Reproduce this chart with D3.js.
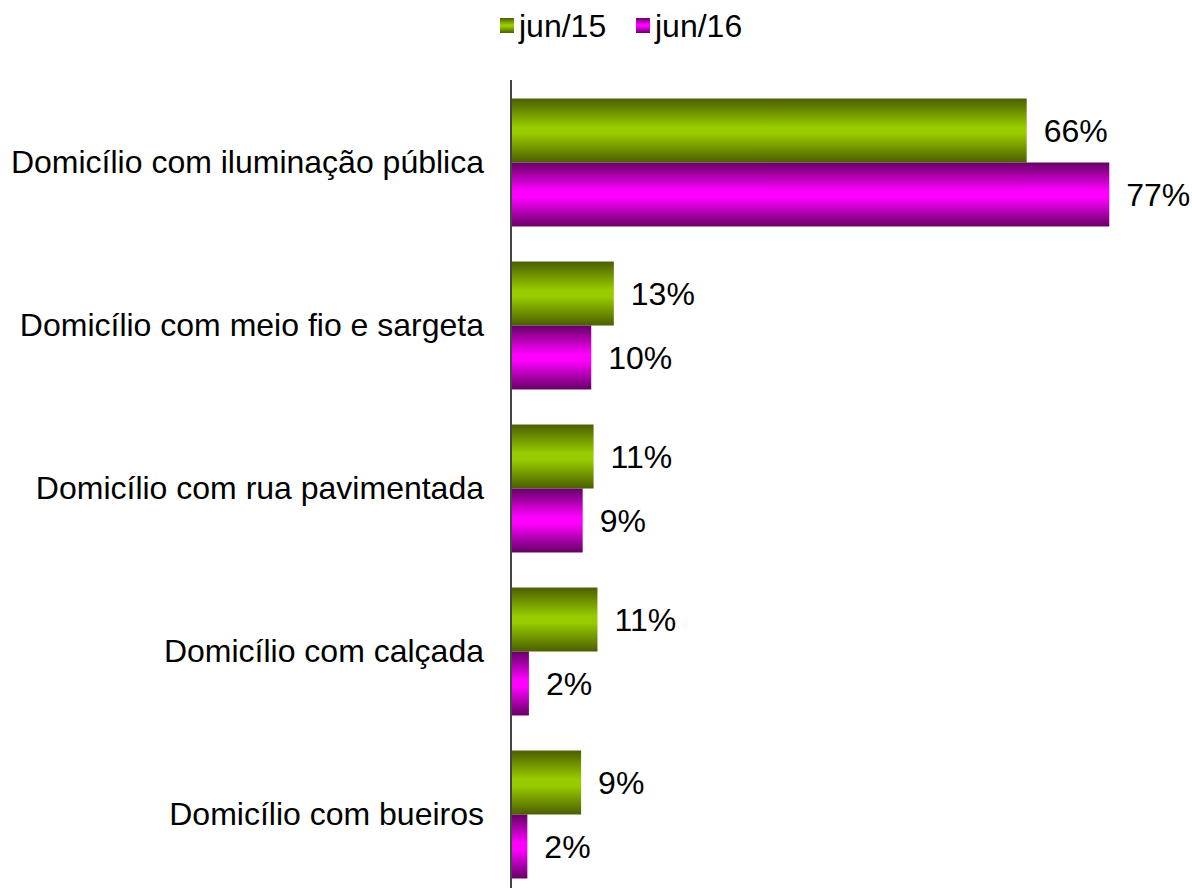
<!DOCTYPE html>
<html>
<head>
<meta charset="utf-8">
<script src="https://cdn.jsdelivr.net/npm/d3@7"></script>
<style>
  body { margin: 0; background: #fff; }
  text { font-family: "Liberation Sans", Arial, sans-serif; fill: #000; }
</style>
</head>
<body>
<svg id="chart" width="1192" height="888"></svg>
<script>
'use strict';

const categories = [
  'Domicílio com iluminação pública',
  'Domicílio com meio fio e sargeta',
  'Domicílio com rua pavimentada',
  'Domicílio com calçada',
  'Domicílio com bueiros',
];
const seriesNames = ['jun/15', 'jun/16'];
const jun15 = [66.2, 13.2, 10.6, 11.1, 9.0];
const jun16 = [76.8, 10.3, 9.2, 2.3, 2.1];

const palette = {
  'jun/15': { dark: '#4b5e00', light: '#99cc00' },
  'jun/16': { dark: '#650065', light: '#ff00ff' },
};

const FONT = 32;
const svg = d3.select('#chart');
const axisX = 511;

const x = d3.scaleLinear().domain([0, 100]).range([axisX, axisX + 779]);
const y = d3.scaleBand().domain(categories).range([81, 896]).paddingInner(0.215).paddingOuter(0.1075);
const ySub = d3.scaleBand().domain(seriesNames).range([0, y.bandwidth()]);

// gradients: dark at edges, bright in the middle
const defs = svg.append('defs');
seriesNames.forEach((name, i) => {
  const g = defs.append('linearGradient')
    .attr('id', `grad${i}`)
    .attr('x1', 0).attr('y1', 0).attr('x2', 0).attr('y2', 1);
  g.append('stop').attr('offset', '0%').attr('stop-color', palette[name].dark);
  g.append('stop').attr('offset', '45%').attr('stop-color', palette[name].light);
  g.append('stop').attr('offset', '55%').attr('stop-color', palette[name].light);
  g.append('stop').attr('offset', '100%').attr('stop-color', palette[name].dark);
});

const rows = categories.map((c, i) => ({
  category: c,
  values: [
    { key: 'jun/15', value: jun15[i], idx: 0 },
    { key: 'jun/16', value: jun16[i], idx: 1 },
  ],
}));

const groups = svg.append('g')
  .selectAll('g')
  .data(rows)
  .join('g')
  .attr('transform', (d) => `translate(0,${y(d.category)})`);

groups.selectAll('rect')
  .data((d) => d.values)
  .join('rect')
  .attr('x', x(0))
  .attr('y', (d) => ySub(d.key))
  .attr('width', (d) => x(d.value) - x(0))
  .attr('height', ySub.bandwidth())
  .attr('fill', (d) => `url(#grad${d.idx})`);

groups.selectAll('text.val')
  .data((d) => d.values)
  .join('text')
  .attr('class', 'val')
  .attr('x', (d) => x(d.value) + 17)
  .attr('y', (d) => ySub(d.key) + ySub.bandwidth() / 2)
  .attr('dy', '0.35em')
  .attr('font-size', FONT)
  .text((d) => `${d3.format('.0f')(d.value)}%`);

// category axis
const yAxis = d3.axisLeft(y).tickSize(0).tickPadding(27);
const axisG = svg.append('g')
  .attr('transform', `translate(${axisX},0)`)
  .call(yAxis);
axisG.select('.domain').attr('d', 'M0,80V888').attr('stroke', '#444').attr('stroke-width', 2);
axisG.selectAll('.tick text')
  .attr('font-size', FONT)
  .attr('font-family', '"Liberation Sans", Arial, sans-serif')
  .attr('fill', '#000');

// legend
const legendPos = [500, 636];
const legend = svg.append('g')
  .selectAll('g')
  .data(seriesNames)
  .join('g')
  .attr('transform', (d, i) => `translate(${legendPos[i]},18)`);
legend.append('rect')
  .attr('width', 14).attr('height', 15)
  .attr('fill', (d, i) => `url(#grad${i})`);
legend.append('text')
  .attr('x', 19)
  .attr('y', 8)
  .attr('dy', '0.35em')
  .attr('font-size', FONT)
  .text((d) => d);
</script>
</body>
</html>
